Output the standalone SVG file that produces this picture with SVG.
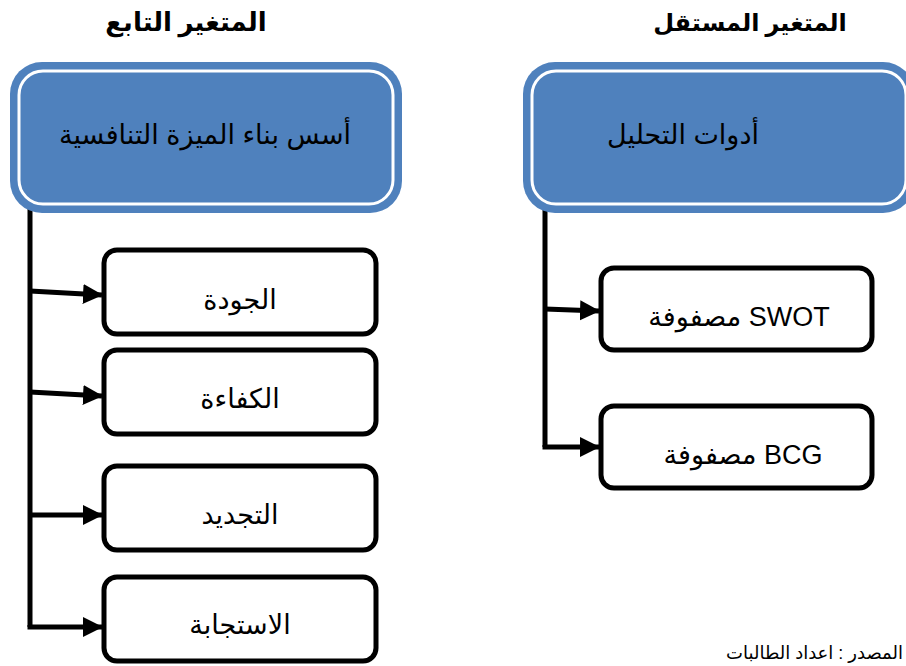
<svg xmlns="http://www.w3.org/2000/svg" width="906" height="666" viewBox="0 0 906 666">
<style>
.title{font-family:"Liberation Serif","DejaVu Serif","DejaVu Sans",serif;font-weight:bold;font-size:26px;fill:#000}
.title-r{font-size:24px}
.main-outer{fill:#4F81BD;stroke:none}
.main-inner{fill:none;stroke:#fff;stroke-width:3}
.main-text{font-family:"Liberation Sans","DejaVu Sans",sans-serif;font-size:27px;fill:#000}
.box{fill:#fff;stroke:#000;stroke-width:5}
.box-text{font-family:"Liberation Sans","DejaVu Sans",sans-serif;font-size:27px;fill:#000}
.mat-text{font-family:"Liberation Sans","DejaVu Sans",sans-serif;font-size:27px;fill:#000}
.conn{fill:none;stroke:#000;stroke-width:5}
.foot{font-family:"Liberation Sans","DejaVu Sans",sans-serif;font-size:18px;fill:#000}
</style>
<defs>
<marker id="arrow" markerUnits="userSpaceOnUse" markerWidth="20" markerHeight="22" refX="19" refY="11" orient="auto">
<path d="M0,1 L20,11 L0,21 Z" fill="#000"/>
</marker>
</defs>
<rect width="906" height="666" fill="#fff"/>

<text class="title" x="186" y="31" text-anchor="middle">المتغير التابع</text>
<text class="title title-r" x="750" y="31" text-anchor="middle">المتغير المستقل</text>

<g id="connectors">
<polyline class="conn" points="30,205 30,627"/>
<line class="conn" x1="30" y1="291" x2="102" y2="295" marker-end="url(#arrow)"/>
<line class="conn" x1="30" y1="392" x2="102" y2="396" marker-end="url(#arrow)"/>
<line class="conn" x1="30" y1="515" x2="102" y2="515" marker-end="url(#arrow)"/>
<polyline class="conn" points="30,625 30,627 102,627" marker-end="url(#arrow)"/>
<polyline class="conn" points="545,205 545,447"/>
<line class="conn" x1="545" y1="309" x2="599" y2="311" marker-end="url(#arrow)"/>
<polyline class="conn" points="545,445 545,447 599,447" marker-end="url(#arrow)"/>
</g>

<g id="dependent">
<rect class="main-outer" x="10" y="62" width="392" height="151" rx="32"/>
<rect class="main-inner" x="19" y="71" width="374" height="133" rx="24"/>
<text class="main-text" x="205" y="144" text-anchor="middle">أسس بناء الميزة التنافسية</text>
</g>

<g id="independent">
<rect class="main-outer" x="523" y="62" width="392" height="151" rx="32"/>
<rect class="main-inner" x="532" y="71" width="374" height="133" rx="24"/>
<text class="main-text" x="683" y="144" text-anchor="middle">أدوات التحليل</text>
</g>

<g id="quality">
<rect class="box" x="104" y="250" width="272" height="84" rx="13"/>
<text class="box-text" x="240" y="309" text-anchor="middle">الجودة</text>
</g>
<g id="efficiency">
<rect class="box" x="104" y="350" width="272" height="84" rx="13"/>
<text class="box-text" x="240" y="408" text-anchor="middle">الكفاءة</text>
</g>
<g id="innovation">
<rect class="box" x="104" y="466" width="272" height="84" rx="13"/>
<text class="box-text" x="240" y="524" text-anchor="middle">التجديد</text>
</g>
<g id="response">
<rect class="box" x="104" y="577" width="272" height="84" rx="13"/>
<text class="box-text" x="240" y="634" text-anchor="middle">الاستجابة</text>
</g>

<g id="swot">
<rect class="box" x="601" y="268" width="271" height="82" rx="13"/>
<text class="mat-text" x="739" y="326" text-anchor="middle">مصفوفة SWOT</text>
</g>
<g id="bcg">
<rect class="box" x="601" y="406" width="271" height="82" rx="13"/>
<text class="mat-text" x="743" y="464" text-anchor="middle">مصفوفة BCG</text>
</g>

<text class="foot" x="903" y="659" text-anchor="end">المصدر : اعداد الطالبات</text>
</svg>
